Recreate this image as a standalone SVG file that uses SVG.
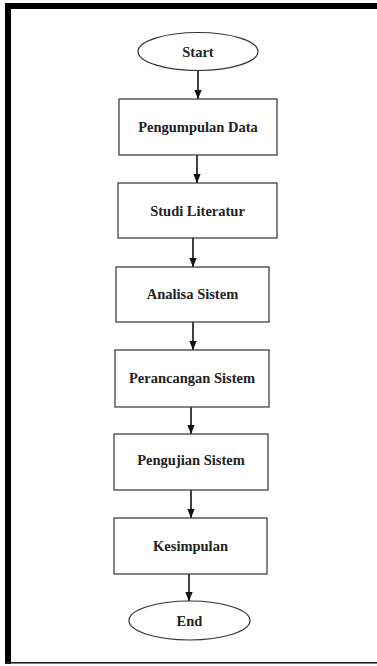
<svg xmlns="http://www.w3.org/2000/svg" width="377" height="666" viewBox="0 0 377 666">
<style>
.b{fill:#fff;stroke:#333;stroke-width:1.2}
.t{font-family:"Liberation Serif","Times New Roman",serif;font-weight:bold;font-size:14.5px;fill:#222;text-anchor:middle}
.c{stroke:#111;stroke-width:1.6;fill:none}
</style>
<defs>
<marker id="ah" markerWidth="8" markerHeight="10" refX="4" refY="10" orient="auto" markerUnits="userSpaceOnUse" viewBox="0 0 8 10">
<path d="M0,0 L8,0 L4,10 Z" fill="#111" transform="rotate(-90 4 5) translate(-1 1)"/>
</marker>
<marker id="arr" markerWidth="9" markerHeight="11" refX="11" refY="4.5" orient="auto" markerUnits="userSpaceOnUse" viewBox="0 0 11 9">
<path d="M0,0 L11,4.5 L0,9 Z" fill="#111"/>
</marker>
</defs>
<rect x="0" y="0" width="377" height="666" fill="#fff"/>
<g id="frame">
<rect x="5" y="3" width="372" height="6" fill="#000"/>
<rect x="5" y="3" width="6" height="661" fill="#000"/>
<rect x="5" y="662" width="372" height="1.6" fill="#222"/>
</g>
<g id="connectors">
<line class="c" x1="198" y1="71" x2="198" y2="99" marker-end="url(#arr)"/>
<line class="c" x1="197" y1="155" x2="197" y2="183" marker-end="url(#arr)"/>
<line class="c" x1="193" y1="238" x2="193" y2="267" marker-end="url(#arr)"/>
<line class="c" x1="193" y1="322" x2="193" y2="350" marker-end="url(#arr)"/>
<line class="c" x1="191" y1="407" x2="191" y2="434" marker-end="url(#arr)"/>
<line class="c" x1="191" y1="490" x2="191" y2="518" marker-end="url(#arr)"/>
<line class="c" x1="189" y1="574" x2="189" y2="601" marker-end="url(#arr)"/>
</g>
<g id="start">
<ellipse class="b" cx="198" cy="51.5" rx="60" ry="19"/>
<text class="t" x="198" y="56.5">Start</text>
</g>
<g id="pengumpulan">
<rect class="b" x="119" y="99" width="158" height="56"/>
<text class="t" x="198" y="132">Pengumpulan Data</text>
</g>
<g id="studi">
<rect class="b" x="118" y="183" width="159" height="55"/>
<text class="t" x="197.5" y="216">Studi Literatur</text>
</g>
<g id="analisa">
<rect class="b" x="116" y="267" width="153" height="55"/>
<text class="t" x="192.5" y="299">Analisa Sistem</text>
</g>
<g id="perancangan">
<rect class="b" x="115" y="350" width="154" height="57"/>
<text class="t" x="192" y="383">Perancangan Sistem</text>
</g>
<g id="pengujian">
<rect class="b" x="114" y="434" width="154" height="56"/>
<text class="t" x="191" y="465">Pengujian Sistem</text>
</g>
<g id="kesimpulan">
<rect class="b" x="114" y="518" width="153" height="56"/>
<text class="t" x="190.5" y="551">Kesimpulan</text>
</g>
<g id="end">
<ellipse class="b" cx="189.5" cy="620.5" rx="60.5" ry="19.5"/>
<text class="t" x="189.5" y="625.5">End</text>
</g>
</svg>
